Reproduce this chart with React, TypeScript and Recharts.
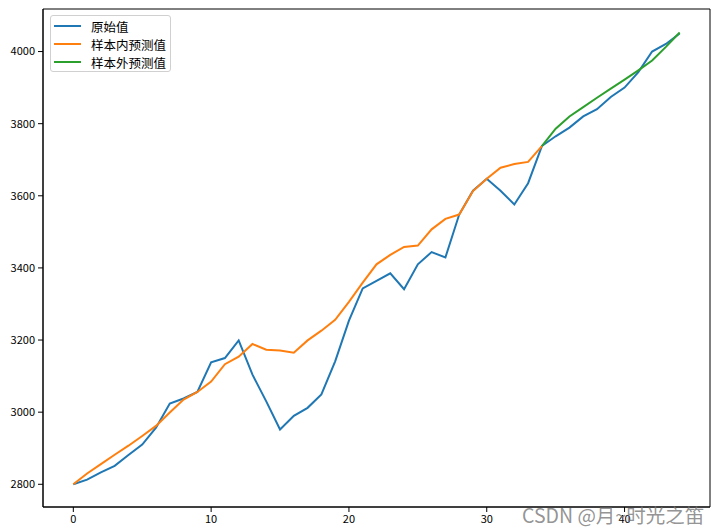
import { Line, LineChart, ReferenceArea, XAxis, YAxis } from "recharts";

// 原始值 0..44
const original = [
  2800, 2813, 2833, 2851, 2881, 2910, 2957, 3024, 3038, 3056,
  3138, 3150, 3199, 3104, 3030, 2952, 2990, 3012, 3049, 3141,
  3254, 3343, 3364, 3385, 3341, 3410, 3444, 3429, 3548, 3614,
  3647, 3614, 3576, 3635, 3738, 3765, 3789, 3820, 3840, 3874,
  3900, 3943, 4000, 4021, 4050,
];
// 样本内预测值 0..34
const inSample = [
  2800, 2830, 2856, 2882, 2907, 2934, 2962, 2999, 3035, 3056,
  3085, 3133, 3154, 3189, 3173, 3171, 3165, 3199, 3226, 3256,
  3306, 3359, 3410, 3436, 3458, 3462, 3507, 3536, 3548, 3613,
  3647, 3678, 3688, 3694, 3738,
];
// 样本外预测值 34..44
const outStart = 34;
const outSample = [3738, 3786, 3820, 3846, 3872, 3897, 3922, 3948, 3975, 4013, 4053];

const xTicks = [0, 10, 20, 30, 40];
const yTicks = [2800, 3000, 3200, 3400, 3600, 3800, 4000];
const xDomain = [-2.2, 46.2];
const yDomain = [2737, 4118];

const labels = { original: "原始值", inSample: "样本内预测值", outSample: "样本外预测值" };
const colors = { original: "#1f77b4", inSample: "#ff7f0e", outSample: "#2ca02c" };

const data = original.map((v, i) => ({
  x: i,
  original: v,
  inSample: i < inSample.length ? inSample[i] : undefined,
  outSample: i >= outStart ? outSample[i - outStart] : undefined,
}));

const font = '"Noto Sans CJK SC", "DejaVu Sans", sans-serif';
const tickStyle = { fill: "#000", fontSize: 11, fontFamily: font };

function LegendBox() {
  const keys = ["original", "inSample", "outSample"] as const;
  return (
    <div
      style={{
        position: "absolute",
        left: 50,
        top: 15,
        width: 121,
        height: 57,
        border: "1px solid #d0d0d0",
        borderRadius: 3,
        background: "rgba(255,255,255,0.8)",
        boxSizing: "border-box",
        fontFamily: font,
        fontSize: 12.5,
        color: "#000",
        paddingTop: 1,
      }}
    >
      {keys.map((k) => (
        <div key={k} style={{ display: "flex", alignItems: "center", height: 18 }}>
          <span style={{ display: "inline-block", width: 27, height: 2, background: colors[k], marginLeft: 3, marginRight: 10 }} />
          <span>{labels[k]}</span>
        </div>
      ))}
    </div>
  );
}

export default function App() {
  return (
    <div style={{ position: "absolute", left: 0, top: 0, width: 720, height: 532, background: "#fff" }}>
      <LineChart width={720} height={532} data={data} margin={{ top: 9, right: 10, left: 0, bottom: 0 }}>
        <XAxis
          dataKey="x"
          type="number"
          domain={xDomain}
          ticks={xTicks}
          allowDataOverflow
          height={25}
          tickSize={5}
          tickMargin={3}
          tick={tickStyle}
          stroke="#000"
          tickLine={{ stroke: "#000" }}
        />
        <YAxis
          type="number"
          domain={yDomain}
          ticks={yTicks}
          allowDataOverflow
          width={43}
          tickSize={5}
          tickMargin={3}
          tick={tickStyle}
          stroke="#000"
          tickLine={{ stroke: "#000" }}
        />
        <ReferenceArea
          x1={xDomain[0]}
          x2={xDomain[1]}
          y1={yDomain[0]}
          y2={yDomain[1]}
          fill="none"
          stroke="#000"
          strokeWidth={1}
          ifOverflow="visible"
        />
        <Line dataKey="original" name={labels.original} stroke={colors.original} strokeWidth={2} dot={false} isAnimationActive={false} />
        <Line dataKey="inSample" name={labels.inSample} stroke={colors.inSample} strokeWidth={2} dot={false} isAnimationActive={false} />
        <Line dataKey="outSample" name={labels.outSample} stroke={colors.outSample} strokeWidth={2} dot={false} isAnimationActive={false} />
      </LineChart>
      <LegendBox />
      <div
        style={{
          position: "absolute",
          left: 522,
          top: 500,
          fontFamily: font,
          fontSize: 19.5,
          color: "rgba(120,120,120,0.8)",
          whiteSpace: "nowrap",
        }}
      >
        CSDN @月~时光之笛
      </div>
    </div>
  );
}
